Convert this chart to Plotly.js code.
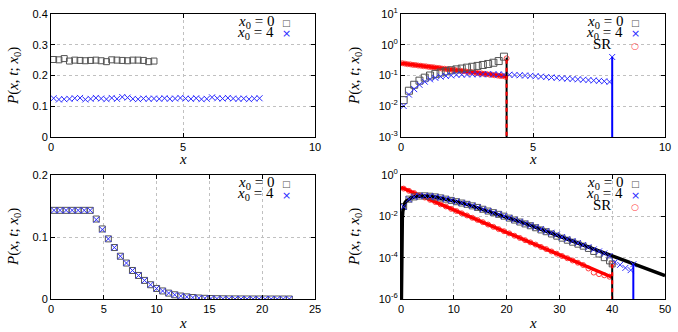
<!DOCTYPE html>
<html><head><meta charset="utf-8">
<script src="https://cdn.plot.ly/plotly-3.0.1.min.js"></script>
<style>body{margin:0;background:#fff}#c{width:678px;height:332px}</style>
</head><body><div id="c"></div>
<script>
// ---------- Panel 1 (top-left, linear) ----------
const p1X0 = [0.1,0.3,0.5,0.7,0.9,1.1,1.3,1.5,1.7,1.9,2.1,2.3,2.5,2.7,2.9,3.1,3.3,3.5,3.7,3.9];
const p1Y0 = [0.252,0.251,0.255,0.247,0.250,0.249,0.248,0.249,0.250,0.248,0.245,0.251,0.250,0.249,0.248,0.250,0.250,0.249,0.245,0.247];
const p1X4 = [0.1,0.3,0.5,0.7,0.9,1.1,1.3,1.5,1.7,1.9,2.1,2.3,2.5,2.7,2.9,3.1,3.3,3.5,3.7,3.9,
              4.1,4.3,4.5,4.7,4.9,5.1,5.3,5.5,5.7,5.9,6.1,6.3,6.5,6.7,6.9,7.1,7.3,7.5,7.7,7.9];
const p1Y4 = [0.126,0.122,0.123,0.124,0.126,0.127,0.122,0.124,0.127,0.125,0.123,0.127,0.124,0.130,0.128,0.124,0.123,0.125,0.124,0.125,
              0.124,0.126,0.124,0.125,0.127,0.125,0.124,0.126,0.123,0.124,0.129,0.126,0.125,0.127,0.125,0.124,0.125,0.123,0.125,0.126];

// ---------- Panel 2 (top-right, log) ----------
const p2X0 = [0.1,0.3,0.5,0.7,0.9,1.1,1.3,1.5,1.7,1.9,2.1,2.3,2.5,2.7,2.9,3.1,3.3,3.5,3.7,3.9];
const p2Y0 = [0.0158,0.032,0.050,0.068,0.085,0.100,0.113,0.125,0.137,0.148,0.158,0.168,0.180,0.192,0.205,0.220,0.237,0.260,0.295,0.41];
const p2X4 = [0.1,0.3,0.5,0.7,0.9,1.1,1.3,1.5,1.7,1.9,2.1,2.3,2.5,2.7,2.9,3.1,3.3,3.5,3.7,3.9,
              4.1,4.3,4.5,4.7,4.9,5.1,5.3,5.5,5.7,5.9,6.1,6.3,6.5,6.7,6.9,7.1,7.3,7.5,7.7,7.9,8.0];
const p2Y4 = [0.0102,0.024,0.036,0.050,0.063,0.075,0.084,0.092,0.097,0.101,0.105,0.107,0.108,0.109,0.110,0.109,0.110,0.109,0.108,0.107,
              0.106,0.104,0.102,0.100,0.098,0.095,0.092,0.089,0.086,0.084,0.081,0.079,0.077,0.075,0.073,0.071,0.069,0.067,0.065,0.062,0.40];
const p2XSR = [0.05,0.15,0.25,0.35,0.45,0.55,0.65,0.75,0.85,0.95,1.05,1.15,1.25,1.35,1.45,1.55,1.65,1.75,1.85,1.95,
               2.05,2.15,2.25,2.35,2.45,2.55,2.65,2.75,2.85,2.95,3.05,3.15,3.25,3.35,3.45,3.55,3.65,3.75,3.85,3.95,4.0];
const p2YSR = [0.250,0.243,0.233,0.230,0.222,0.219,0.211,0.208,0.201,0.198,0.191,0.188,0.184,0.177,0.175,0.168,0.166,0.160,0.158,0.152,
               0.151,0.145,0.143,0.138,0.136,0.131,0.130,0.125,0.123,0.118,0.117,0.113,0.111,0.107,0.106,0.102,0.100,0.097,0.096,0.092,0.36];
const p2LineSRX = [0,1,2,3,4];
const p2LineSRY = [0.25,0.195,0.152,0.118,0.092];
const p2Delta0X = [4,4], p2Delta0Y = [1e-4,0.38];
const p2Delta4X = [8,8], p2Delta4Y = [1e-4,0.40];

// ---------- Panel 3 (bottom-left, linear) ----------
const p3X = [0.286,0.857,1.429,2.0,2.571,3.143,3.714,4.286,4.857,5.429,6.0,6.571,7.143,7.714,8.286,8.857,9.429,10.0,10.571,11.143,
             11.714,12.286,12.857,13.429,14.0,14.571,15.143,15.714,16.286,16.857,17.429,18.0,18.571,19.143,19.714,20.286,20.857,21.429,22.0,22.571];
const p3Y0 = [0.143,0.143,0.143,0.143,0.143,0.143,0.143,0.129,0.113,0.097,0.083,0.069,0.058,0.046,0.038,0.030,0.023,0.017,0.013,0.0095,
              0.0068,0.0048,0.0034,0.0024,0.0016,0.0011,0.0007,0.0005,0.0003,0.0002,0.00013,0.00008,0.00005,0.00003,0.00002,0.00001,0.000006,0.000004,0.000002,0.000001];
const p3Y4 = [0.143,0.143,0.143,0.143,0.143,0.143,0.143,0.128,0.112,0.097,0.083,0.069,0.058,0.046,0.038,0.030,0.023,0.017,0.013,0.0095,
              0.0068,0.0048,0.0034,0.0024,0.0016,0.0011,0.0007,0.0005,0.0003,0.0002,0.00013,0.00008,0.00005,0.00003,0.00002,0.00001,0.000006,0.000004,0.000002,0.000001];

// ---------- Panel 4 (bottom-right, log) ----------
const p4X0 = [0.5,1.5,2.5,3.5,4.5,5.5,6.5,7.5,8.5,9.5,10.5,11.5,12.5,13.5,14.5,15.5,16.5,17.5,18.5,19.5,
              20.5,21.5,22.5,23.5,24.5,25.5,26.5,27.5,28.5,29.5,30.5,31.5,32.5,33.5,34.5,35.5,36.5,37.5,38.5,39.5,40];
const p4Y0 = [0.030,0.068,0.087,0.096,0.098,0.094,0.087,0.078,0.068,0.059,0.051,0.044,0.038,0.032,0.027,0.022,0.018,0.015,0.0125,0.0102,
              0.0082,0.0066,0.0053,0.0043,0.0035,0.0028,0.0022,0.0018,0.0014,0.0011,0.00088,0.00070,0.00056,0.00045,0.00036,0.00028,0.00020,0.00015,0.00010,0.00007,0.00005];
const p4X4 = [0.5,1.5,2.5,3.5,4.5,5.5,6.5,7.5,8.5,9.5,10.5,11.5,12.5,13.5,14.5,15.5,16.5,17.5,18.5,19.5,
              20.5,21.5,22.5,23.5,24.5,25.5,26.5,27.5,28.5,29.5,30.5,31.5,32.5,33.5,34.5,35.5,36.5,37.5,38.5,39.5,40.5,41.5,42.5,43.5,44];
const p4Y4 = [0.029,0.066,0.088,0.097,0.099,0.095,0.088,0.079,0.069,0.060,0.052,0.045,0.039,0.033,0.027,0.022,0.018,0.015,0.0126,0.0104,
              0.0084,0.0068,0.0055,0.0045,0.0037,0.0030,0.0024,0.0019,0.0016,0.0013,0.00099,0.00080,0.00064,0.00051,0.00041,0.00032,0.00025,0.00020,0.00016,0.00012,
              0.00006,0.000045,0.000032,0.000025,0.000048];
const p4XSR = [0.5,1.5,2.5,3.5,4.5,5.5,6.5,7.5,8.5,9.5,10.5,11.5,12.5,13.5,14.5,15.5,16.5,17.5,18.5,19.5,
               20.5,21.5,22.5,23.5,24.5,25.5,26.5,27.5,28.5,29.5,30.5,31.5,32.5,33.5,34.5,35.5,36.5,37.5,38.5,39.5,40];
const p4YSR = [0.22,0.172,0.134,0.104,0.081,0.063,0.049,0.038,0.030,0.023,0.018,0.014,0.011,0.0085,0.0067,0.0052,0.0040,0.0031,0.0024,0.0019,
               0.0015,0.00115,0.0009,0.0007,0.00055,0.00043,0.00033,0.00026,0.00020,0.000155,0.00012,0.000094,0.000073,0.000057,0.000044,0.000030,0.000019,0.000016,0.000014,0.000012,0.00005];
const p4LineX = [0.08,0.12,0.18,0.25,0.35,0.5,0.75,1,1.5,2,3,4,5,6,7,8,10,12.5,15,17.5,20,22.5,25,30,35,40,45,50];
const p4LineY = [1e-6,1e-4,2e-3,8e-3,0.018,0.030,0.045,0.055,0.068,0.080,0.093,0.098,0.097,0.091,0.082,0.073,0.055,0.038,0.024,0.015,0.009,0.0055,0.0033,1.1e-3,3.8e-4,1.3e-4,4.2e-5,1.35e-5];
const p4LineSRX = [0,10,20,30,40];
const p4LineSRY = [0.25,0.0205,0.00168,0.000138,0.0000113];
const p4Delta0X = [40,40], p4Delta0Y = [1e-8,5e-5];
const p4Delta4X = [44,44], p4Delta4Y = [1e-8,4.8e-5];

// tick labels
const p1YTicks = [0,0.1,0.2,0.3,0.4], p1YText = ['0','0.1','0.2','0.3','0.4'];
const p2YTicks = [1e-3,1e-2,1e-1,1,10], p2YText = ['10<sup>-3</sup>','10<sup>-2</sup>','10<sup>-1</sup>','10<sup>0</sup>','10<sup>1</sup>'];
const p3YTicks = [0,0.1,0.2], p3YText = ['0','0.1','0.2'];
const p4YTicks = [1e-6,1e-4,1e-2,1], p4YText = ['10<sup>-6</sup>','10<sup>-4</sup>','10<sup>-2</sup>','10<sup>0</sup>'];

// ---------- styles ----------
const GRAY = '#555555', BLUE = '#2a2aff', RED = '#ff4040';
const sq = (xa, ya, x, y, s) => ({type:'scatter', mode:'markers', x, y, xaxis:xa, yaxis:ya,
  marker:{symbol:'square-open', size:s||6, color:GRAY, line:{width:1, color:GRAY}}});
const cr = (xa, ya, x, y) => ({type:'scatter', mode:'markers', x, y, xaxis:xa, yaxis:ya,
  marker:{symbol:'x-thin-open', size:6, color:BLUE, line:{width:1, color:BLUE}}});
const ci = (xa, ya, x, y) => ({type:'scatter', mode:'markers', x, y, xaxis:xa, yaxis:ya,
  marker:{symbol:'circle-open', size:5, color:RED, line:{width:1, color:RED}}});
const ln = (xa, ya, x, y, color, width, dash) => ({type:'scatter', mode:'lines', x, y, xaxis:xa, yaxis:ya,
  line:{color, width, dash:dash||'solid'}});

const data = [
  sq('x','y',p1X0,p1Y0), cr('x','y',p1X4,p1Y4),

  ci('x2','y2',p2XSR,p2YSR), ln('x2','y2',p2LineSRX,p2LineSRY,'#ff0000',3.5),
  sq('x2','y2',p2X0,p2Y0,7), cr('x2','y2',p2X4,p2Y4),
  ln('x2','y2',p2Delta4X,p2Delta4Y,'#0000ff',2),
  ln('x2','y2',p2Delta0X,p2Delta0Y,'#000000',2),
  ln('x2','y2',p2Delta0X,p2Delta0Y,'#ff0000',2,'4px,4px'),

  sq('x3','y3',p3X,p3Y0), cr('x3','y3',p3X,p3Y4),

  ci('x4','y4',p4XSR,p4YSR), ln('x4','y4',p4LineSRX,p4LineSRY,'#ff0000',3.5),
  sq('x4','y4',p4X0,p4Y0), ln('x4','y4',p4LineX,p4LineY,'#000000',3.5),
  cr('x4','y4',p4X4,p4Y4),
  ln('x4','y4',p4Delta4X,p4Delta4Y,'#0000ff',2),
  ln('x4','y4',p4Delta0X,p4Delta0Y,'#000000',2),
  ln('x4','y4',p4Delta0X,p4Delta0Y,'#ff0000',2,'4px,4px')
];

const W = 678, H = 332;
const PX = v => v/W, PY = v => 1 - v/H;
const tickfont = {family:'Liberation Sans, Arial, sans-serif', size:11, color:'#000'};
const ax = (o) => Object.assign({
  showline:true, linecolor:'#000', linewidth:1, mirror:'ticks',
  ticks:'inside', ticklen:4, tickwidth:1, tickcolor:'#000',
  showgrid:true, gridcolor:'#c0c0c0', griddash:'dot', gridwidth:1,
  zeroline:false, tickfont, fixedrange:true
}, o);

const LX = [PX(51), PX(315)], RX = [PX(401), PX(665)];
const TY = [PY(137), PY(14)], BY = [PY(299), PY(175)];

const serif = {family:'Liberation Serif, Times New Roman, serif', size:15, color:'#000'};
const A = (text, x, y, o) => Object.assign({text, x:PX(x), y:PY(y), xref:'paper', yref:'paper',
  showarrow:false, font:serif, xanchor:'center', yanchor:'middle'}, o||{});
const ytitle = '<i>P</i>(<i>x</i>, <i>t</i>; <i>x</i><sub>0</sub>)';
const lab0 = '<i>x</i><sub>0</sub> = 0', lab4 = '<i>x</i><sub>0</sub> = 4';
const symS = {family:'DejaVu Sans, sans-serif', size:9, color:GRAY};
const symX = {family:'DejaVu Sans, sans-serif', size:11, color:BLUE};
const symO = {family:'DejaVu Sans, sans-serif', size:9, color:RED};

const annotations = [
  A(ytitle, 14, 76, {textangle:-90}), A(ytitle, 355, 76, {textangle:-90}),
  A(ytitle, 14, 237, {textangle:-90}), A(ytitle, 355, 237, {textangle:-90}),
  A('<i>x</i>', 183, 159), A('<i>x</i>', 533, 159), A('<i>x</i>', 183, 323), A('<i>x</i>', 533, 323),
  // legends
  A(lab0, 276, 22, {xanchor:'right'}), A('□', 286, 23, {font:symS}),
  A(lab4, 276, 33, {xanchor:'right'}), A('×', 286, 34, {font:symX}),
  A(lab0, 625, 22, {xanchor:'right'}), A('□', 635, 23, {font:symS}),
  A(lab4, 625, 33, {xanchor:'right'}), A('×', 635, 34, {font:symX}),
  A('SR', 613, 44, {xanchor:'right'}), A('○', 635, 46, {font:symO}),
  A(lab0, 276, 183, {xanchor:'right'}), A('□', 286, 184, {font:symS}),
  A(lab4, 276, 194, {xanchor:'right'}), A('×', 286, 195, {font:symX}),
  A(lab0, 625, 183, {xanchor:'right'}), A('□', 635, 184, {font:symS}),
  A(lab4, 625, 194, {xanchor:'right'}), A('×', 635, 195, {font:symX}),
  A('SR', 613, 205, {xanchor:'right'}), A('○', 635, 207, {font:symO})
];

const layout = {
  width:W, height:H, margin:{l:0,r:0,t:0,b:0}, showlegend:false,
  paper_bgcolor:'#fff', plot_bgcolor:'#fff',
  xaxis: ax({domain:LX, anchor:'y', range:[0,10], tickvals:[0,5,10]}),
  yaxis: ax({domain:TY, anchor:'x', range:[0,0.4], tickvals:p1YTicks, ticktext:p1YText}),
  xaxis2: ax({domain:RX, anchor:'y2', range:[0,10], tickvals:[0,5,10]}),
  yaxis2: ax({domain:TY, anchor:'x2', type:'log', range:[-3,1], tickvals:p2YTicks, ticktext:p2YText}),
  xaxis3: ax({domain:LX, anchor:'y3', range:[0,25], tickvals:[0,5,10,15,20,25]}),
  yaxis3: ax({domain:BY, anchor:'x3', range:[0,0.2], tickvals:p3YTicks, ticktext:p3YText}),
  xaxis4: ax({domain:RX, anchor:'y4', range:[0,50], tickvals:[0,10,20,30,40,50]}),
  yaxis4: ax({domain:BY, anchor:'x4', type:'log', range:[-6,0], tickvals:p4YTicks, ticktext:p4YText}),
  annotations
};
Plotly.newPlot('c', data, layout, {staticPlot:true, displayModeBar:false});
</script></body></html>
